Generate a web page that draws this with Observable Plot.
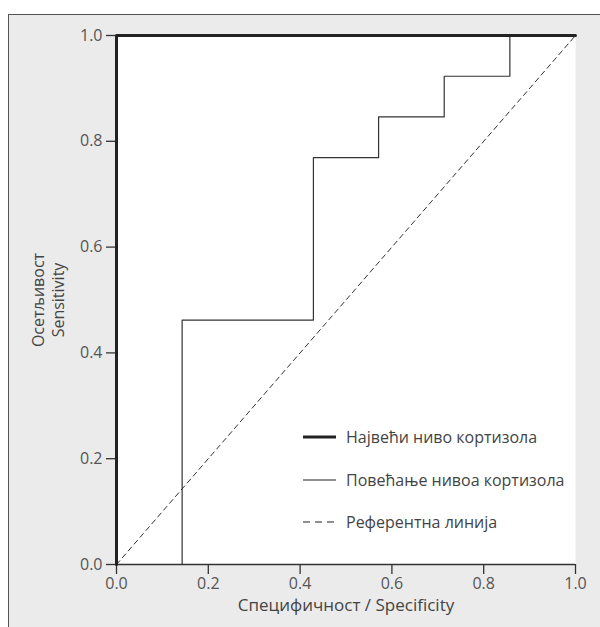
<!DOCTYPE html>
<html>
<head>
<meta charset="utf-8">
<script src="https://cdn.jsdelivr.net/npm/d3@7"></script>
<script src="https://cdn.jsdelivr.net/npm/@observablehq/plot@0.6"></script>
<style>
  html, body { margin: 0; padding: 0; background: #ffffff; }
  #wrap { position: relative; width: 600px; height: 627px; overflow: hidden; font-family: "Open Sans", sans-serif; }
  #panel { position: absolute; left: 8px; top: 14px; width: 700px; height: 700px; background: #ebebec; border: 1.5px solid #555; }
  #chart { position: absolute; left: 0; top: 0; }
  #legend { position: absolute; left: 303px; top: 426px; font-size: 16px; color: #444; }
  .row { display: flex; align-items: center; height: 22px; margin-bottom: 20.5px; white-space: nowrap; }
  .row svg { margin-right: 10px; }
</style>
</head>
<body>
<div id="wrap">
  <div id="panel"></div>
  <div id="chart"></div>
  <div id="legend"></div>
</div>
<script>
// Data
const seriesNames = ["Највећи ниво кортизола", "Повећање нивоа кортизола", "Референтна линија"];
const maxX = [0, 0, 1];
const maxY = [0, 1, 1];
const incX = [0.143, 0.143, 0.429, 0.429, 0.571, 0.571, 0.714, 0.714, 0.857, 0.857, 1];
const incY = [0, 0.462, 0.462, 0.769, 0.769, 0.846, 0.846, 0.923, 0.923, 1, 1];
const refX = [0, 1];
const refY = [0, 1];
const tickValues = [0, 0.2, 0.4, 0.6, 0.8, 1.0];
const xTitle = "Специфичност / Specificity";
const yTitle = "Осетљивост\nSensitivity";

const toPts = (xs, ys) => xs.map((x, i) => ({x, y: ys[i]}));
const maxPts = toPts(maxX, maxY);
const incPts = toPts(incX, incY);
const refPts = toPts(refX, refY);

const fmt = d3.format(".1f");

const chart = Plot.plot({
  width: 600,
  height: 627,
  marginLeft: 116,
  marginRight: 25,
  marginTop: 35,
  marginBottom: 63,
  style: { background: "transparent", fontFamily: "'Open Sans', sans-serif", fontSize: "16px", color: "#555" },
  x: { domain: [0, 1] },
  y: { domain: [0, 1] },
  marks: [
    Plot.frame({ fill: "white", stroke: null }),
    Plot.axisX({ ticks: tickValues, tickFormat: fmt, tickSize: 10, tickPadding: 3, label: null, stroke: "#333", strokeWidth: 1.3, fill: "#555", fontSize: 16 }),
    Plot.axisY({ ticks: tickValues, tickFormat: fmt, tickSize: 10, tickPadding: 4, label: null, stroke: "#333", strokeWidth: 1.3, fill: "#555", fontSize: 16 }),
    Plot.ruleY([0], { stroke: "#333", strokeWidth: 1.6 }),
    Plot.line(refPts, { x: "x", y: "y", stroke: "#333", strokeWidth: 1, strokeDasharray: "5,4" }),
    Plot.line(incPts, { x: "x", y: "y", stroke: "#333", strokeWidth: 1.2 }),
    Plot.line(maxPts, { x: "x", y: "y", stroke: "#222", strokeWidth: 3 }),
    Plot.text([xTitle], { frameAnchor: "bottom", dy: 46, text: d => d, fontSize: 17, fill: "#444" }),
    Plot.text([yTitle], { frameAnchor: "left", textAnchor: "middle", lineAnchor: "middle", dx: -69.3, rotate: -90, text: d => d, fontSize: 16, fill: "#444", lineHeight: 1.25 })
  ]
});
document.getElementById("chart").appendChild(chart);

// Legend
const styles = [
  { w: 3, dash: null },
  { w: 1.2, dash: null },
  { w: 1.2, dash: "7,5" }
];
const legend = document.getElementById("legend");
seriesNames.forEach((name, i) => {
  const row = document.createElement("div");
  row.className = "row";
  const s = styles[i];
  row.innerHTML = `<svg width="33" height="10"><line x1="0" x2="33" y1="5" y2="5" stroke="#222" stroke-width="${s.w}" ${s.dash ? `stroke-dasharray="${s.dash}"` : ""}/></svg><span>${name}</span>`;
  legend.appendChild(row);
});
</script>
</body>
</html>
